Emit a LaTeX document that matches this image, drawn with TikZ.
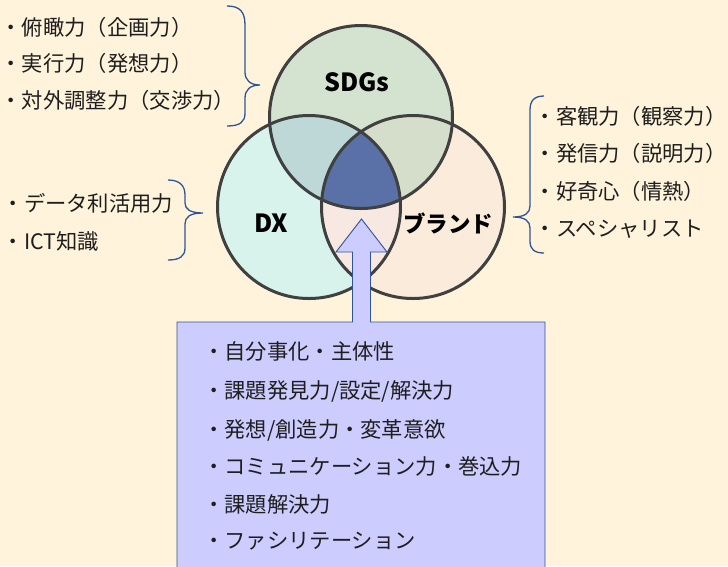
\documentclass[tikz,border=0pt]{standalone}
\usepackage{fontspec}
\setmainfont{Noto Sans CJK JP}
\definecolor{bg}{HTML}{FFF4DB}
\definecolor{cSo}{HTML}{D4E3D0}
\definecolor{cDo}{HTML}{D7F3EC}
\definecolor{cBo}{HTML}{FAEBDB}
\definecolor{cSD}{HTML}{BED7D7}
\definecolor{cSB}{HTML}{D5DECB}
\definecolor{cDB}{HTML}{F8E8E2}
\definecolor{cC}{HTML}{5A71A8}
\definecolor{ringc}{HTML}{404040}
\definecolor{bracec}{HTML}{2F5597}
\definecolor{arrowfill}{HTML}{CCCCFF}
\definecolor{txtc}{HTML}{1E1E1E}
\tikzset{
  vennc/.style={circle, draw=ringc, line width=3pt, minimum size=183pt, inner sep=0pt},
  txt/.style={anchor=base west, inner sep=0pt, text=txtc, font=\fontsize{21.3pt}{26pt}\selectfont},
  lbl/.style={inner sep=0pt, text=black, font=\bfseries\fontsize{25pt}{30pt}\selectfont},
  bracest/.style={draw=bracec, line width=1.3pt},
  arrowst/.style={fill=arrowfill, draw=bracec, line width=0.9pt, line join=miter}
}
\begin{document}
\begin{tikzpicture}[x=1pt,y=-1pt]
\useasboundingbox (0,0) rectangle (728,566);
\clip (0,0) rectangle (728,566);
\fill[bg] (0,0) rectangle (728,566);
\def\R{91.5pt}
\coordinate (S) at (361,117);
\coordinate (D) at (309,207);
\coordinate (B) at (413,207);
% region fills
\fill[cSo] (S) circle (\R);
\fill[cDo] (D) circle (\R);
\fill[cBo] (B) circle (\R);
\begin{scope}
  \clip (S) circle (\R);
  \fill[cSD] (D) circle (\R);
  \fill[cSB] (B) circle (\R);
\end{scope}
\begin{scope}
  \clip (D) circle (\R);
  \fill[cDB] (B) circle (\R);
\end{scope}
\begin{scope}
  \clip (S) circle (\R);
  \clip (D) circle (\R);
  \fill[cC] (B) circle (\R);
\end{scope}
% outlines
\node[vennc] (sdg) at (S) {};
\node[vennc] (dx) at (D) {};
\node[vennc] (brand) at (B) {};
% labels
\node[lbl] (sdglbl) at (357,82) {SDGs};
\node[lbl] (dxlbl) at (271,223) {DX};
\node[lbl, font=\bfseries\fontsize{22.5pt}{27pt}\selectfont] (brandlbl) at (448,223) {ブランド};
% arrow + box
\draw[arrowst] (177,590) -- (177,322) -- (352.5,322) -- (352.5,252) -- (336,252) -- (361.5,219)
  -- (387,252) -- (370.5,252) -- (370.5,322) -- (545,322) -- (545,590) -- cycle;
% braces
\draw[bracest] (227,6) .. controls (240,6) and (245,12) .. (245,25) -- (245,72)
  .. controls (245,80) and (250,85) .. (260,85)
  .. controls (250,85) and (245,90) .. (245,98) -- (245,113)
  .. controls (245,122) and (240,126) .. (227,126);
\draw[bracest] (168,180) .. controls (180,180) and (185,186) .. (185,195) -- (185,203)
  .. controls (185,209) and (190,213) .. (203,213)
  .. controls (190,213) and (185,217) .. (185,224) -- (185,248)
  .. controls (185,256) and (180,260) .. (168,260);
\draw[bracest] (544,96) .. controls (534,96) and (530,101) .. (530,110) -- (530,206)
  .. controls (530,213) and (525,217) .. (513,217)
  .. controls (525,217) and (530,221) .. (530,228) -- (530,241)
  .. controls (530,249) and (534,253) .. (544,253);
% left top group
\node[txt] (a1) at (0.5,35) {・俯瞰力（企画力）};
\node[txt] (a2) at (0.5,71) {・実行力（発想力）};
\node[txt] (a3) at (0.5,108.5) {・対外調整力（交渉力）};
% DX group
\node[txt] (b1) at (2.5,211.5) {・データ利活用力};
\node[txt] (b2) at (2.5,249) {・ICT知識};
% right group
\node[txt] (c1) at (534.5,124) {・客観力（観察力）};
\node[txt] (c2) at (534.5,161) {・発信力（説明力）};
\node[txt] (c3) at (534.5,199) {・好奇心（情熱）};
\node[txt] (c4) at (534.5,236) {・スペシャリスト};
% bottom box
\node[txt] (d1) at (203,359.5) {・自分事化・主体性};
\node[txt] (d2) at (203,398.5) {・課題発見力/設定/解決力};
\node[txt] (d3) at (203,437.5) {・発想/創造力・変革意欲};
\node[txt] (d4) at (203,474.5) {・コミュニケーション力・巻込力};
\node[txt] (d5) at (203,512.5) {・課題解決力};
\node[txt] (d6) at (203,548.5) {・ファシリテーション};
\end{tikzpicture}
\end{document}
